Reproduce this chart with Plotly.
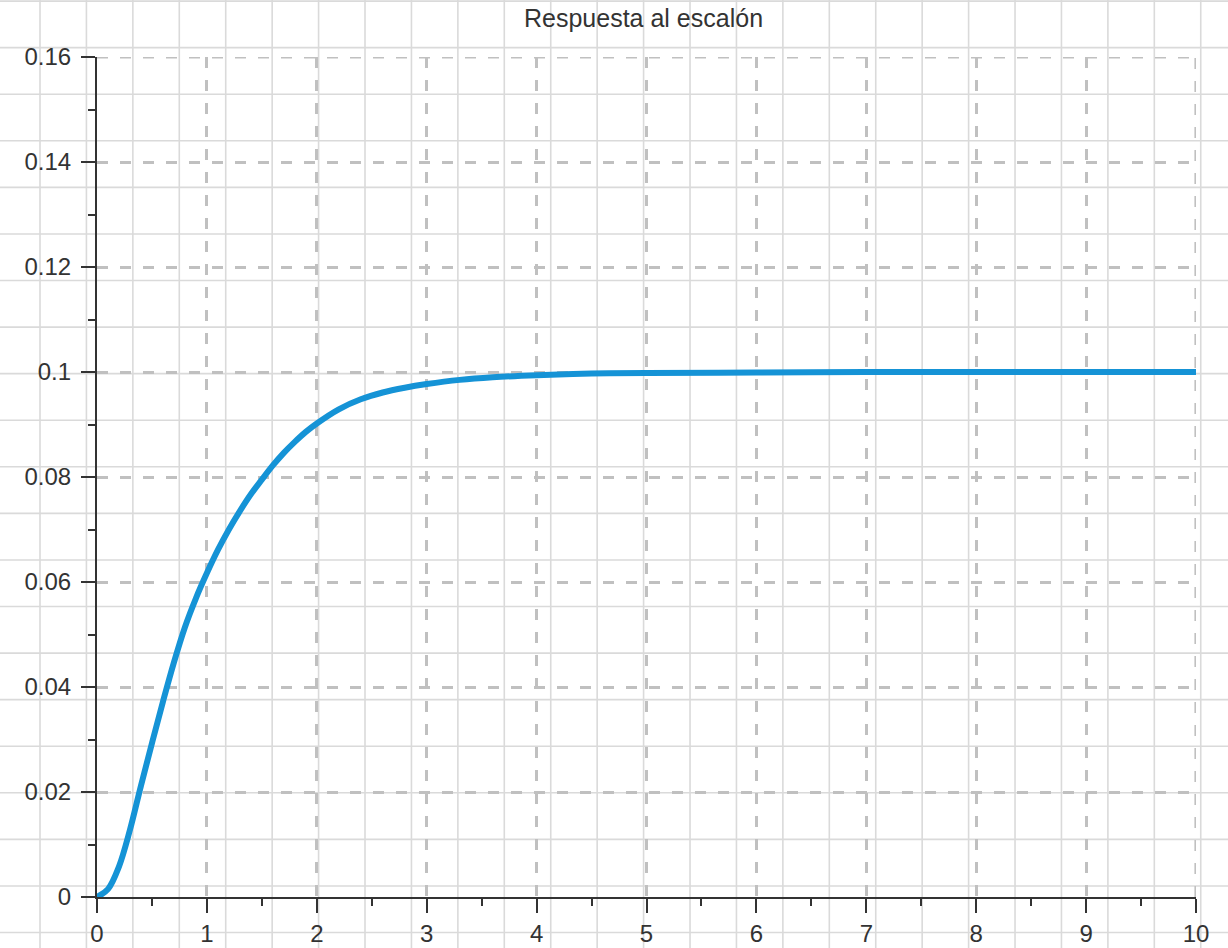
import plotly.graph_objects as go

# Step response samples (time in s, output amplitude)
t_vals = [0.0, 0.1, 0.2, 0.3, 0.4, 0.5, 0.6, 0.7, 0.8, 0.9, 1.0, 1.1, 1.2, 1.3,
          1.4, 1.5, 1.6, 1.7, 1.8, 1.9, 2.0, 2.2, 2.4, 2.6, 2.8, 3.0, 3.3, 3.6,
          4.0, 4.5, 5.0, 6.0, 7.0, 8.0, 9.0, 10.0]
y_vals = [0.0, 0.0015, 0.0058, 0.0128, 0.0212, 0.0293, 0.0372, 0.0447, 0.0514,
          0.0569, 0.0617, 0.0661, 0.0700, 0.0735, 0.0767, 0.0795, 0.0822, 0.0846,
          0.0867, 0.0886, 0.0902, 0.0929, 0.0948, 0.0961, 0.0970, 0.0977, 0.0985,
          0.0990, 0.0994, 0.0997, 0.0998, 0.0999, 0.1, 0.1, 0.1, 0.1]

x_ticks = [0, 1, 2, 3, 4, 5, 6, 7, 8, 9, 10]
y_ticks = [0, 0.02, 0.04, 0.06, 0.08, 0.1, 0.12, 0.14, 0.16]
y_tick_text = ["0", "0.02", "0.04", "0.06", "0.08", "0.1", "0.12", "0.14", "0.16"]

W, H = 1228, 948
PLOT_L, PLOT_R, PLOT_T, PLOT_B = 97, 1196, 57, 897

AXIS_COLOR = "#333333"
LABEL_COLOR = "#333333"
GRID_COLOR = "#c0c0c0"
PAPER_GRID = "#dadada"
CURVE_COLOR = "#1593d6"
FONT = "Liberation Sans, Arial, sans-serif"
GRID_DASH = "11px,12px"

fig = go.Figure()
fig.add_trace(go.Scatter(
    x=t_vals, y=y_vals, mode="lines",
    line=dict(color=CURVE_COLOR, width=6, shape="spline", smoothing=1.0),
    hoverinfo="skip", showlegend=False,
))

# Graph-paper background grid across the whole page
shapes = []
step_x, start_x = 46.43, 40.0
step_y, start_y = 46.57, 1.1
px = start_x
while px < W:
    shapes.append(dict(type="line", xref="paper", yref="paper",
                       x0=px / W, x1=px / W, y0=0, y1=1, layer="below",
                       line=dict(color=PAPER_GRID, width=1.6)))
    px += step_x
py = start_y
while py < H:
    shapes.append(dict(type="line", xref="paper", yref="paper",
                       x0=0, x1=1, y0=1 - py / H, y1=1 - py / H, layer="below",
                       line=dict(color=PAPER_GRID, width=1.6)))
    py += step_y

# Dashed grid lines along the far edges of the axis ranges
shapes.append(dict(type="line", xref="x", yref="y", x0=0, x1=x_ticks[-1],
                   y0=y_ticks[-1], y1=y_ticks[-1], layer="below",
                   line=dict(color=GRID_COLOR, width=3.2, dash=GRID_DASH)))
shapes.append(dict(type="line", xref="x", yref="y", x0=x_ticks[-1], x1=x_ticks[-1],
                   y0=0, y1=y_ticks[-1], layer="below",
                   line=dict(color=GRID_COLOR, width=3.2, dash=GRID_DASH)))

common_axis = dict(
    showline=True, linecolor=AXIS_COLOR, linewidth=2.2,
    ticks="outside", ticklen=14, tickwidth=2.4, tickcolor=AXIS_COLOR,
    showgrid=True, gridcolor=GRID_COLOR, gridwidth=3.2, griddash=GRID_DASH,
    zeroline=False, layer="below traces", automargin=False,
    tickfont=dict(family=FONT, size=24, color=LABEL_COLOR),
    fixedrange=True,
)

fig.update_layout(
    width=W, height=H,
    margin=dict(l=0, r=0, t=0, b=0, autoexpand=False),
    paper_bgcolor="white", plot_bgcolor="rgba(0,0,0,0)",
    shapes=shapes,
    xaxis=dict(
        common_axis,
        domain=[PLOT_L / W, PLOT_R / W],
        range=[0, 10], tickvals=x_ticks, ticktext=[str(v) for v in x_ticks],
        ticklabelstandoff=0,
        minor=dict(dtick=0.5, tick0=0, ticks="outside", ticklen=7,
                   tickwidth=2.2, tickcolor=AXIS_COLOR, showgrid=False),
    ),
    yaxis=dict(
        common_axis,
        domain=[1 - PLOT_B / H, 1 - PLOT_T / H],
        range=[0, 0.16], tickvals=y_ticks, ticktext=y_tick_text,
        ticklabelstandoff=5,
        minor=dict(dtick=0.01, tick0=0, ticks="outside", ticklen=7,
                   tickwidth=2.2, tickcolor=AXIS_COLOR, showgrid=False),
    ),
    annotations=[dict(
        text="Respuesta al escalón", xref="paper", yref="paper",
        x=643.5 / W, y=1 - 18 / H, xanchor="center", yanchor="middle",
        showarrow=False, font=dict(family=FONT, size=25, color=LABEL_COLOR),
    )],
)

fig.write_html("out.html")
